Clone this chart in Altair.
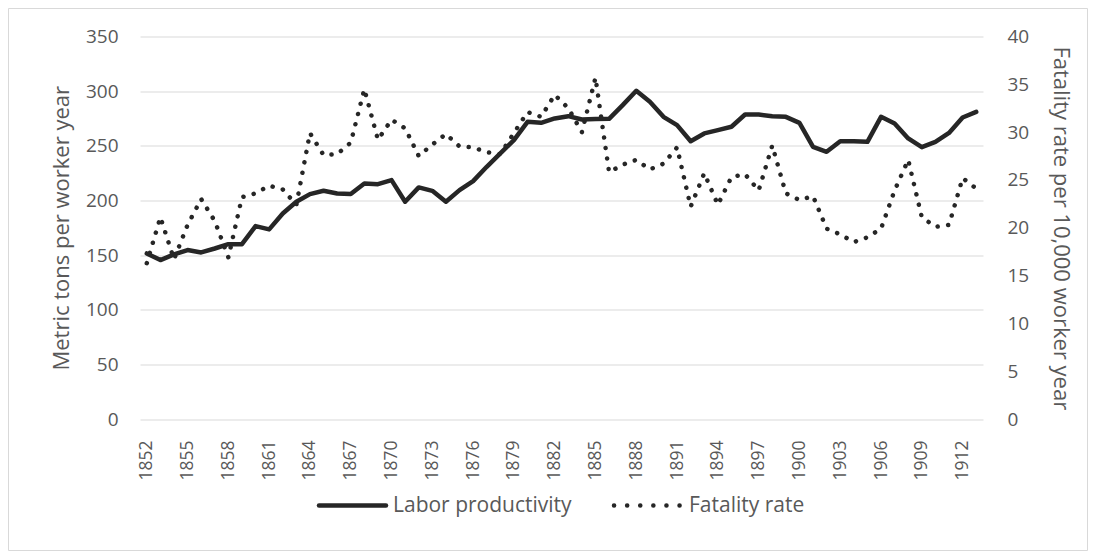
import altair as alt
import pandas as pd

years = [1852, 1853, 1854, 1855, 1856, 1857, 1858, 1859, 1860, 1861,
         1862, 1863, 1864, 1865, 1866, 1867, 1868, 1869, 1870, 1871,
         1872, 1873, 1874, 1875, 1876, 1877, 1878, 1879, 1880, 1881,
         1882, 1883, 1884, 1885, 1886, 1887, 1888, 1889, 1890, 1891,
         1892, 1893, 1894, 1895, 1896, 1897, 1898, 1899, 1900, 1901,
         1902, 1903, 1904, 1905, 1906, 1907, 1908, 1909, 1910, 1911,
         1912, 1913]

productivity = [151.5, 145.4, 150.6, 154.6, 152.4, 156.0, 160.0, 160.0, 176.5, 173.5,
                188.0, 198.8, 205.8, 208.8, 206.4, 205.8, 215.5, 214.9, 218.6, 198.8,
                211.9, 208.8, 198.8, 209.4, 217.7, 230.8, 243.0, 255.2, 271.9, 271.0,
                275.0, 277.1, 274.1, 274.4, 274.7, 287.2, 300.3, 290.2, 276.5, 268.9,
                254.2, 261.3, 264.3, 267.4, 278.6, 278.6, 277.1, 276.5, 271.0, 249.0,
                244.5, 254.2, 254.2, 253.6, 276.5, 270.4, 256.7, 248.7, 253.6, 261.8,
                275.9, 281.0]

fatality = [16.3, 21.1, 16.7, 20.3, 23.0, 20.7, 16.9, 23.2, 23.6, 24.4,
            24.0, 22.4, 29.9, 27.6, 27.7, 28.9, 34.5, 29.2, 31.3, 30.4,
            27.5, 28.7, 29.8, 28.5, 28.4, 27.9, 27.7, 29.9, 32.1, 31.6,
            33.9, 32.5, 30.0, 35.7, 25.8, 26.6, 27.1, 26.1, 26.7, 28.4,
            22.2, 25.7, 22.4, 25.3, 25.6, 23.9, 28.6, 23.6, 22.9, 23.3,
            19.9, 19.3, 18.5, 19.0, 19.9, 23.9, 27.1, 21.1, 20.1, 20.3,
            25.2, 24.1]

tick_years = [1852, 1855, 1858, 1861, 1864, 1867, 1870, 1873, 1876, 1879,
              1882, 1885, 1888, 1891, 1894, 1897, 1900, 1903, 1906, 1909, 1912]
left_ticks = [0, 50, 100, 150, 200, 250, 300, 350]
right_ticks = [0, 5, 10, 15, 20, 25, 30, 35, 40]
series_names = ["Labor productivity", "Fatality rate"]
left_title = "Metric tons per worker year"
right_title = "Fatality rate per 10,000 worker year"

df = pd.DataFrame({"year": years, "productivity": productivity, "fatality": fatality})

FONT = "Open Sans"
TXT = "#595959"
INK = "#262626"
FRAME = "#d9d9d9"

W, H = 843, 382.5
PL, PT, PR, PB = 132, 28.5, 105, 132

x_enc = alt.X(
    "year:O",
    scale=alt.Scale(type="point", padding=0.5),
    axis=alt.Axis(
        values=tick_years, labelAngle=270, title=None, domain=False, ticks=False,
        labelPadding=21, labelFontSize=17.5, labelFont=FONT, labelColor=TXT, grid=False,
    ),
)

prod_line = alt.Chart(df).mark_line(
    color=INK, strokeWidth=4.5, strokeJoin="round", strokeCap="round"
).encode(
    x=x_enc,
    y=alt.Y(
        "productivity:Q",
        scale=alt.Scale(domain=[0, 350], nice=False, zero=True),
        axis=alt.Axis(
            values=left_ticks, title=left_title, orient="left", grid=True,
            gridColor="#d9d9d9", gridWidth=1.2, domain=False, ticks=False,
            labelPadding=22, labelFontSize=19, labelFont=FONT, labelColor=TXT,
            titleFontSize=22, titleFont=FONT, titleColor=TXT, titleFontWeight="normal",
            titlePadding=12,
        ),
    ),
)

fat_line = alt.Chart(df).mark_line(
    color=INK, strokeWidth=4.5, strokeDash=[0.1, 10.5], strokeCap="round", strokeJoin="round"
).encode(
    x=x_enc,
    y=alt.Y(
        "fatality:Q",
        scale=alt.Scale(domain=[0, 40], nice=False, zero=True),
        axis=alt.Axis(
            values=right_ticks, title=right_title, orient="right", grid=False,
            domain=False, ticks=False,
            labelPadding=24, labelFontSize=19, labelFont=FONT, labelColor=TXT,
            titleFontSize=22, titleFont=FONT, titleColor=TXT, titleFontWeight="normal",
            titlePadding=20,
        ),
    ),
)

one = alt.Data(values=[{"k": 1}])

L, R = -PL + 0.5, W + PR - 0.5
T, B = -PT + 0.5, H + PB - 0.5
frame_top = alt.Chart(one).mark_rule(color=FRAME, strokeWidth=1).encode(
    x=alt.value(L), x2=alt.value(R), y=alt.value(T))
frame_bottom = alt.Chart(one).mark_rule(color=FRAME, strokeWidth=1).encode(
    x=alt.value(L), x2=alt.value(R), y=alt.value(B))
frame_left = alt.Chart(one).mark_rule(color=FRAME, strokeWidth=1).encode(
    x=alt.value(L), y=alt.value(T), y2=alt.value(B))
frame_right = alt.Chart(one).mark_rule(color=FRAME, strokeWidth=1).encode(
    x=alt.value(R), y=alt.value(T), y2=alt.value(B))

LEG_Y = 469
leg_solid = alt.Chart(one).mark_rule(
    color=INK, strokeWidth=4.5, strokeCap="round"
).encode(x=alt.value(179), x2=alt.value(246), y=alt.value(LEG_Y))

leg_solid_txt = alt.Chart(one).mark_text(
    align="left", baseline="middle", font=FONT, fontSize=21, color=TXT
).encode(x=alt.value(253), y=alt.value(LEG_Y), text=alt.value(series_names[0]))

leg_dot = alt.Chart(one).mark_rule(
    color=INK, strokeWidth=4.5, strokeCap="round", strokeDash=[0.1, 13]
).encode(x=alt.value(474), x2=alt.value(540), y=alt.value(LEG_Y))

leg_dot_txt = alt.Chart(one).mark_text(
    align="left", baseline="middle", font=FONT, fontSize=21, color=TXT
).encode(x=alt.value(549), y=alt.value(LEG_Y), text=alt.value(series_names[1]))

chart = alt.layer(
    frame_top, frame_bottom, frame_left, frame_right,
    prod_line, fat_line, leg_solid, leg_solid_txt, leg_dot, leg_dot_txt
).resolve_scale(
    y="independent"
).properties(
    width=W, height=H,
    background="white",
    autosize=alt.AutoSizeParams(type="none"),
    padding={"left": PL, "top": PT, "right": PR, "bottom": PB},
).configure_view(
    stroke="transparent", strokeWidth=0
).configure_axis(
    domain=False, ticks=False
).configure_axisX(
    grid=False
)

chart.save("out.html", embed_options={"renderer": "svg", "actions": False})
